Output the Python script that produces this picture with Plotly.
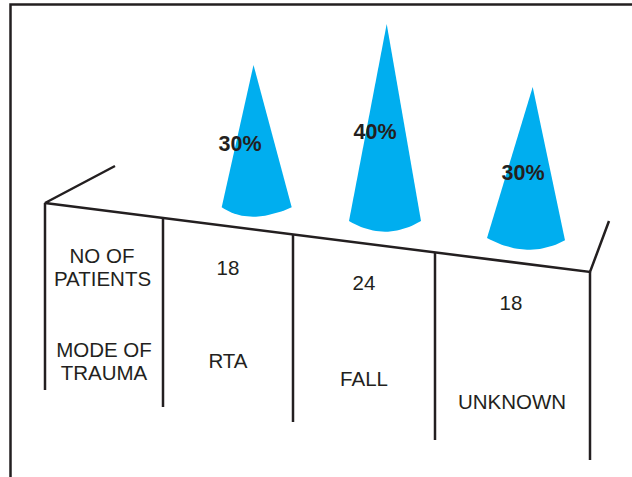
import plotly.graph_objects as go

WIDTH, HEIGHT = 632, 477
INK = "#231f20"
CONE_BLUE = "#00aeef"
FONT = "Liberation Sans"

# Table contents
modes = ["RTA", "FALL", "UNKNOWN"]
patients = [18, 24, 18]
percents = [30, 40, 30]

# Pixels of cone height for each percentage point
PX_PER_PERCENT = 4.9

# Cone placement: tip x, tip floor, left/right rim, rim heights, lowest point of the base
cone_tip_x = [253.5, 386.7, 532.7]
cone_floor = [212, 220, 234]
cone_left = [(221.7, 207.3), (349, 221), (487, 238)]
cone_right = [(291.7, 207.3), (421, 221), (565, 240.3)]
cone_bottom = [(253, 216.7), (385, 231.7), (527, 249.7)]

percent_pos = [(240, 146), (375, 134), (523, 175)]
patients_pos = [(228, 270), (364, 285), (511, 305)]
mode_pos = [(228, 363), (364, 381), (512, 404)]
row_header_lines = ["NO OF", "PATIENTS", "MODE OF", "TRAUMA"]
row_header_pos = [(102, 258), (102.5, 281), (104, 352), (104, 375)]

# Frame and table rules
rules = [
    ((10.5, 477), (10.5, 4.5), (632, 4.5)),
    ((115, 166), (45, 203), (590, 272), (609, 221)),
    ((45, 203), (45, 390)),
    ((163, 219), (163, 407)),
    ((293, 235), (293, 422)),
    ((435, 253), (435, 440)),
    ((590, 272), (590, 460)),
]


def percent_axis(py):
    """Convert a page height in pixels to the cone axis, whose zero is the page bottom."""
    return (HEIGHT - py) / PX_PER_PERCENT


def cone_outline(tip_x, floor, value, left, right, bottom):
    """Outline of a cone: tip, down to the rim, then a curved base back up."""
    tip = percent_axis(floor) + value
    xs, ys = [tip_x], [tip]
    steps = 24
    cx = 2 * bottom[0] - (left[0] + right[0]) / 2
    cy = 2 * bottom[1] - (left[1] + right[1]) / 2
    for i in range(steps + 1):
        t = i / steps
        x = (1 - t) ** 2 * left[0] + 2 * t * (1 - t) * cx + t ** 2 * right[0]
        y = (1 - t) ** 2 * left[1] + 2 * t * (1 - t) * cy + t ** 2 * right[1]
        xs.append(x)
        ys.append(percent_axis(y))
    xs.append(tip_x)
    ys.append(tip)
    return xs, ys


fig = go.Figure()

# Cones sit on the lower axis so the rules and labels are drawn over them
for mode, value, tip_x, floor, left, right, bottom in zip(
    modes, percents, cone_tip_x, cone_floor, cone_left, cone_right, cone_bottom
):
    xs, ys = cone_outline(tip_x, floor, value, left, right, bottom)
    fig.add_trace(go.Scatter(
        x=xs, y=ys, mode="lines", fill="toself",
        fillcolor=CONE_BLUE, line=dict(width=0, color=CONE_BLUE), name=mode,
    ))

for rule in rules:
    fig.add_trace(go.Scatter(
        x=[p[0] for p in rule], y=[p[1] for p in rule], yaxis="y2", mode="lines",
        line=dict(color=INK, width=2.5), line_simplify=False,
    ))


def add_labels(texts, positions, size, bold=False):
    fig.add_trace(go.Scatter(
        x=[p[0] for p in positions], y=[p[1] for p in positions], yaxis="y2",
        mode="text", text=[f"<b>{t}</b>" if bold else str(t) for t in texts],
        textposition="middle center",
        textfont=dict(family=FONT, size=size, color=INK),
    ))


add_labels(row_header_lines, row_header_pos, 20.5)
add_labels(patients, patients_pos, 20.5)
add_labels(modes, mode_pos, 20.5)
add_labels([f"{p}%" for p in percents], percent_pos, 21.5, bold=True)

hidden = dict(visible=False, fixedrange=True)
fig.update_layout(
    width=WIDTH, height=HEIGHT,
    margin=dict(l=0, r=0, t=0, b=0),
    paper_bgcolor="white", plot_bgcolor="white",
    showlegend=False,
    xaxis=dict(range=[0, WIDTH], **hidden),
    yaxis=dict(range=[0, HEIGHT / PX_PER_PERCENT], **hidden),
    yaxis2=dict(range=[HEIGHT, 0], overlaying="y", **hidden),
)

fig.write_html("out.html", config=dict(displayModeBar=False))
